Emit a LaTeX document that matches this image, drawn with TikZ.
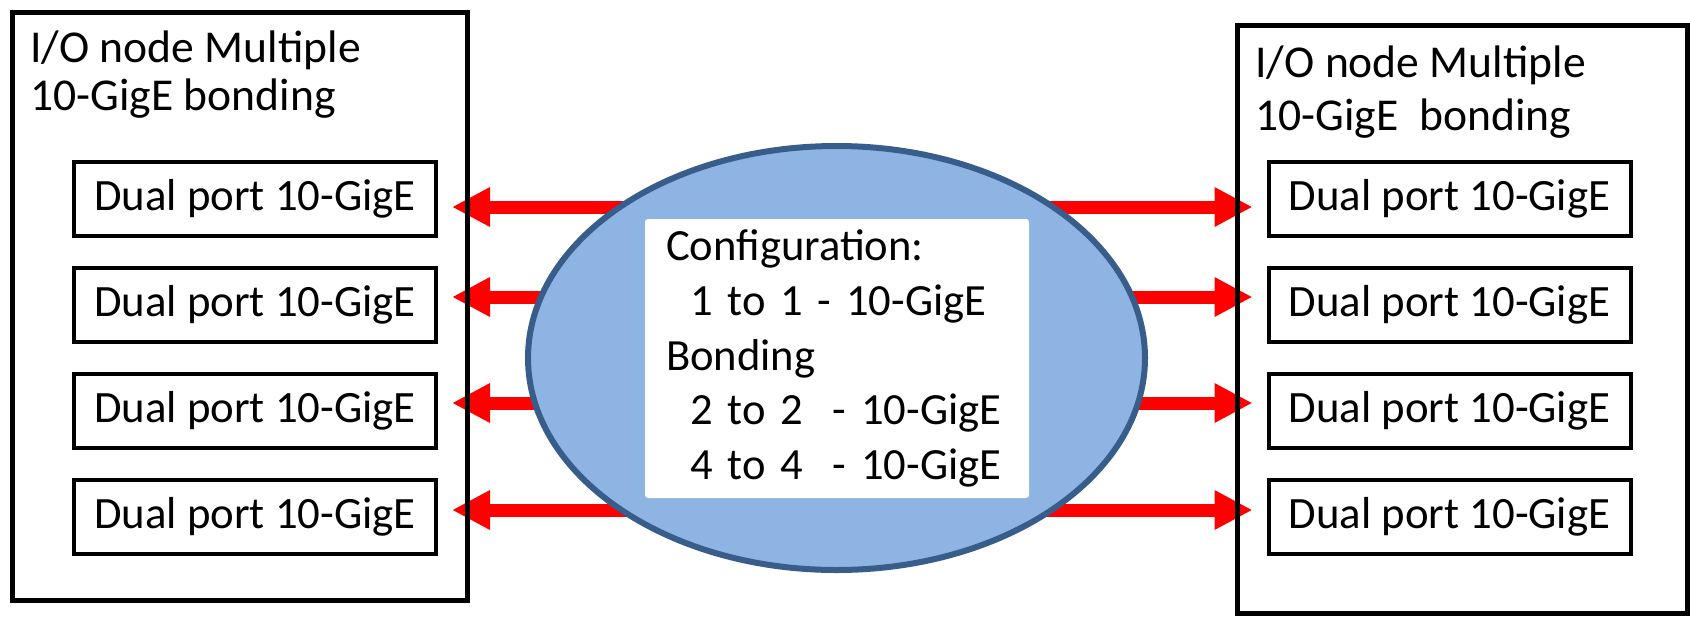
\documentclass[tikz,border=0pt]{standalone}
\usepackage{fontspec}
\setmainfont{Carlito}
\usetikzlibrary{arrows.meta,shapes.geometric,backgrounds}
\definecolor{LinkClr}{rgb}{1,0,0}
\definecolor{CloudClr}{RGB}{142,180,227}
\definecolor{CloudLine}{RGB}{56,93,138}

\tikzset{
  iobox/.style={draw=black,line width=2.5pt,inner sep=0pt},
  iotitle/.style={anchor=base west,inner sep=0pt,font=\fontsize{22.8}{24}\selectfont},
  portbox/.style={draw=black,line width=2pt,minimum width=181pt,minimum height=37pt,
    inner sep=0pt,font=\fontsize{22.4}{24}\selectfont},
  cloud/.style={ellipse,draw=CloudLine,fill=CloudClr,line width=3pt,
    minimum width=308.5pt,minimum height=212pt,inner sep=0pt},
  cfgbox/.style={fill=white,rounded corners=1.5pt,minimum height=139.5pt,
    text width=171pt,inner xsep=10.5pt,inner ysep=0pt,align=left,
    font=\fontsize{22.3}{27.4}\selectfont},
  link/.style={draw=LinkClr,line width=6.5pt,-{Triangle[length=19pt,width=18.5pt]},shorten >=7pt}
}

\begin{document}
\begin{tikzpicture}[x=0.5pt,y=-0.5pt]
\useasboundingbox (0,0) rectangle (1690,616);

% outer I/O nodes
\node[iobox,minimum width=227.25pt,minimum height=293.75pt] (lio) at (239.75,306.25) {};
\node[iobox,minimum width=225pt,minimum height=293.75pt] (rio) at (1462.5,319.25) {};

\node[iotitle] (lt1) at (30,62) {I/O node Multiple};
\node[iotitle] (lt2) at (30,110) {10-GigE bonding};
\node[iotitle] (rt1) at (1255,77) {I/O node Multiple};
\node[iotitle] (rt2) at (1255,130) {10-GigE~ bonding};

% dual port cards
\foreach \i/\y in {1/199,2/305,3/411,4/517}{
  \node[portbox] (L\i) at (255,\y) {Dual port 10-GigE};
  \node[portbox] (R\i) at (1449.5,\y) {Dual port 10-GigE};
}

% switch
\node[cloud] (sw) at (836.5,358) {};
\node[cfgbox] (cfg) at (837,358.5) {Configuration:\\
  \hspace*{12pt}1 to 1 - 10-GigE\\
  Bonding\\
  \hspace*{12pt}2 to 2~ - 10-GigE\\
  \hspace*{12pt}4 to 4~ - 10-GigE};

% links
\foreach \i/\y in {1/207,2/297,3/403,4/510}{
  \coordinate (row\i) at (0,\y);
}
\begin{scope}[on background layer]
\foreach \i in {1,...,4}{
  \draw[link] (sw.center |- row\i) -- (L\i.east |- row\i);
  \draw[link] (sw.center |- row\i) -- (R\i.west |- row\i);
}
\end{scope}

\end{tikzpicture}
\end{document}
